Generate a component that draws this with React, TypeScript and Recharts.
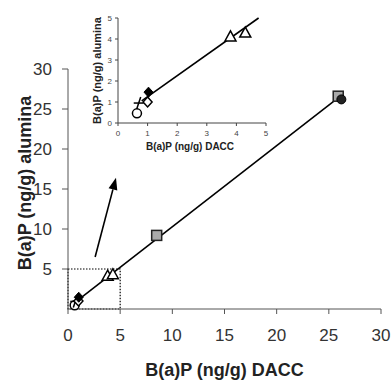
import React from "react";
import {
  ScatterChart,
  Scatter,
  XAxis,
  YAxis,
  ReferenceArea,
  ReferenceLine,
  Label,
} from "recharts";

// B(a)P measured on DACC (x) vs alumina (y), ng/g
const OPEN_CIRCLE = [{ dacc: 0.64, alumina: 0.46 }];
const CROSS = [{ dacc: 0.7, alumina: 0.95 }];
const OPEN_DIAMOND = [{ dacc: 1.0, alumina: 1.0 }];
const FILLED_DIAMOND = [{ dacc: 1.03, alumina: 1.47 }];
const TRIANGLES = [
  { dacc: 3.8, alumina: 4.1 },
  { dacc: 4.3, alumina: 4.28 },
];
const SQUARES = [
  { dacc: 8.5, alumina: 9.2 },
  { dacc: 25.9, alumina: 26.6 },
];
const FILLED_CIRCLE = [{ dacc: 26.2, alumina: 26.2 }];

// fitted line end points
const FIT_MAIN = [
  { dacc: 0.8, alumina: 0.95 },
  { dacc: 26.2, alumina: 26.7 },
];
const FIT_INSET = [
  { dacc: 0.8, alumina: 1.05 },
  { dacc: 4.75, alumina: 5.0 },
];

const MAIN_TICKS_X = [0, 5, 10, 15, 20, 25, 30];
const MAIN_TICKS_Y = [5, 10, 15, 20, 25, 30];
const INSET_TICKS = [0, 1, 2, 3, 4, 5];

const ZOOM_BOX = { x1: 0, x2: 5, y1: 0, y2: 5 };
const ARROW = [
  { x: 2.6, y: 6.5 },
  { x: 4.6, y: 16.4 },
];

const FONT = "'Liberation Sans', Arial, sans-serif";

const openCircle = ({ cx, cy }: any) => (
  <circle cx={cx} cy={cy} r={4.5} fill="#fff" stroke="#000" strokeWidth={1.5} />
);
const filledCircle = ({ cx, cy }: any) => (
  <circle cx={cx} cy={cy} r={4.5} fill="#222" stroke="#000" strokeWidth={1} />
);
const crossMark = ({ cx, cy }: any) => (
  <g stroke="#000" strokeWidth={1.5}>
    <line x1={cx - 5} y1={cy} x2={cx + 5} y2={cy} />
    <line x1={cx - 2} y1={cy + 6} x2={cx + 2} y2={cy - 6} />
  </g>
);
const openDiamond = ({ cx, cy }: any) => (
  <polygon
    points={`${cx},${cy - 5} ${cx + 4.5},${cy} ${cx},${cy + 5} ${cx - 4.5},${cy}`}
    fill="#fff"
    stroke="#000"
    strokeWidth={1.5}
  />
);
const filledDiamond = ({ cx, cy }: any) => (
  <polygon
    points={`${cx},${cy - 5} ${cx + 4.5},${cy} ${cx},${cy + 5} ${cx - 4.5},${cy}`}
    fill="#000"
    stroke="#000"
    strokeWidth={1}
  />
);
const openTriangle = ({ cx, cy }: any) => (
  <polygon
    points={`${cx},${cy - 6} ${cx + 5.5},${cy + 4} ${cx - 5.5},${cy + 4}`}
    fill="#fff"
    stroke="#000"
    strokeWidth={1.5}
  />
);
const graySquare = ({ cx, cy }: any) => (
  <rect x={cx - 5} y={cy - 5} width={10} height={10} fill="#aaa" stroke="#222" strokeWidth={1.5} />
);
const noMark = () => <g />;

const arrowShape = (props: any) => {
  const { x1, y1, x2, y2 } = props;
  const dx = x2 - x1;
  const dy = y2 - y1;
  const len = Math.sqrt(dx * dx + dy * dy) || 1;
  const ux = dx / len;
  const uy = dy / len;
  const head = 12;
  const half = 4.5;
  const bx = x2 - ux * head;
  const by = y2 - uy * head;
  return (
    <g>
      <line x1={x1} y1={y1} x2={bx} y2={by} stroke="#000" strokeWidth={1.6} />
      <polygon
        points={`${x2},${y2} ${bx - uy * half},${by + ux * half} ${bx + uy * half},${by - ux * half}`}
        fill="#000"
      />
    </g>
  );
};

function Markers() {
  return null;
}

export default function App() {
  const series = [
    { data: OPEN_CIRCLE, shape: openCircle },
    { data: CROSS, shape: crossMark },
    { data: OPEN_DIAMOND, shape: openDiamond },
    { data: FILLED_DIAMOND, shape: filledDiamond },
    { data: TRIANGLES, shape: openTriangle },
    { data: SQUARES, shape: graySquare },
    { data: FILLED_CIRCLE, shape: filledCircle },
  ];
  const inset = series.slice(0, 5);

  return (
    <div style={{ position: "absolute", left: 0, top: 0, width: 391, height: 380, background: "#fff" }}>
      <ScatterChart width={391} height={380} margin={{ top: 69, right: 10, bottom: 41, left: 0 }}>
        <XAxis
          type="number"
          dataKey="dacc"
          domain={[0, 30]}
          ticks={MAIN_TICKS_X}
          height={30}
          tickSize={5}
          tickMargin={15}
          stroke="#555"
          tick={{ fontSize: 17, fill: "#333", fontFamily: FONT }}
        >
          <Label
            content={({ viewBox }: any) => (
              <text
                x={viewBox.x + viewBox.width / 2}
                y={376}
                textAnchor="middle"
                fontSize={18}
                fontWeight="bold"
                fontFamily={FONT}
                fill="#222"
              >
                B(a)P (ng/g) DACC
              </text>
            )}
          />
        </XAxis>
        <YAxis
          type="number"
          dataKey="alumina"
          domain={[0, 30]}
          ticks={MAIN_TICKS_Y}
          width={68}
          tickSize={6}
          tickMargin={10}
          stroke="#555"
          tick={{ fontSize: 17, fill: "#333", fontFamily: FONT }}
        >
          <Label
            content={({ viewBox }: any) => (
              <text
                x={31}
                y={viewBox.y + viewBox.height / 2 - 6}
                transform={`rotate(-90 31 ${viewBox.y + viewBox.height / 2 - 6})`}
                textAnchor="middle"
                fontSize={18}
                fontWeight="bold"
                fontFamily={FONT}
                fill="#222"
              >
                B(a)P (ng/g) alumina
              </text>
            )}
          />
        </YAxis>
        <ReferenceArea
          {...ZOOM_BOX}
          fill="none"
          fillOpacity={0}
          stroke="#000"
          strokeWidth={1.2}
          strokeDasharray="1.5 1.5"
          ifOverflow="visible"
        />
        <ReferenceLine segment={ARROW} shape={arrowShape} ifOverflow="visible" />
        <Scatter
          data={FIT_MAIN}
          line={{ stroke: "#000", strokeWidth: 1.6 }}
          shape={noMark}
          isAnimationActive={false}
        />
        {series.map((s, i) => (
          <Scatter key={i} data={s.data} shape={s.shape} isAnimationActive={false} />
        ))}
      </ScatterChart>

      <div style={{ position: "absolute", left: 80, top: 0 }}>
        <ScatterChart width={200} height={160} margin={{ top: 18, right: 14, bottom: 17, left: 0 }}>
          <XAxis
            type="number"
            dataKey="dacc"
            domain={[0, 5]}
            ticks={INSET_TICKS}
            height={20}
            tickSize={3}
            tickMargin={4}
            stroke="#444"
            tick={{ fontSize: 8, fill: "#444", fontFamily: FONT }}
          >
            <Label
              content={({ viewBox }: any) => (
                <text
                  x={viewBox.x + viewBox.width / 2 - 2}
                  y={150}
                  textAnchor="middle"
                  fontSize={10}
                  fontWeight="bold"
                  fontFamily={FONT}
                  fill="#222"
                >
                  B(a)P (ng/g) DACC
                </text>
              )}
            />
          </XAxis>
          <YAxis
            type="number"
            dataKey="alumina"
            domain={[0, 5]}
            ticks={INSET_TICKS}
            width={38}
            tickSize={3}
            tickMargin={3}
            stroke="#444"
            tick={{ fontSize: 8, fill: "#444", fontFamily: FONT }}
          >
            <Label
              content={({ viewBox }: any) => (
                <text
                  x={21}
                  y={viewBox.y + viewBox.height / 2}
                  transform={`rotate(-90 21 ${viewBox.y + viewBox.height / 2})`}
                  textAnchor="middle"
                  fontSize={11}
                  fontWeight="bold"
                  fontFamily={FONT}
                  fill="#222"
                >
                  B(a)P (ng/g) alumina
                </text>
              )}
            />
          </YAxis>
          <Scatter
            data={FIT_INSET}
            line={{ stroke: "#000", strokeWidth: 1.6 }}
            shape={noMark}
            isAnimationActive={false}
          />
          {inset.map((s, i) => (
            <Scatter key={i} data={s.data} shape={s.shape} isAnimationActive={false} />
          ))}
        </ScatterChart>
      </div>
      <Markers />
    </div>
  );
}
